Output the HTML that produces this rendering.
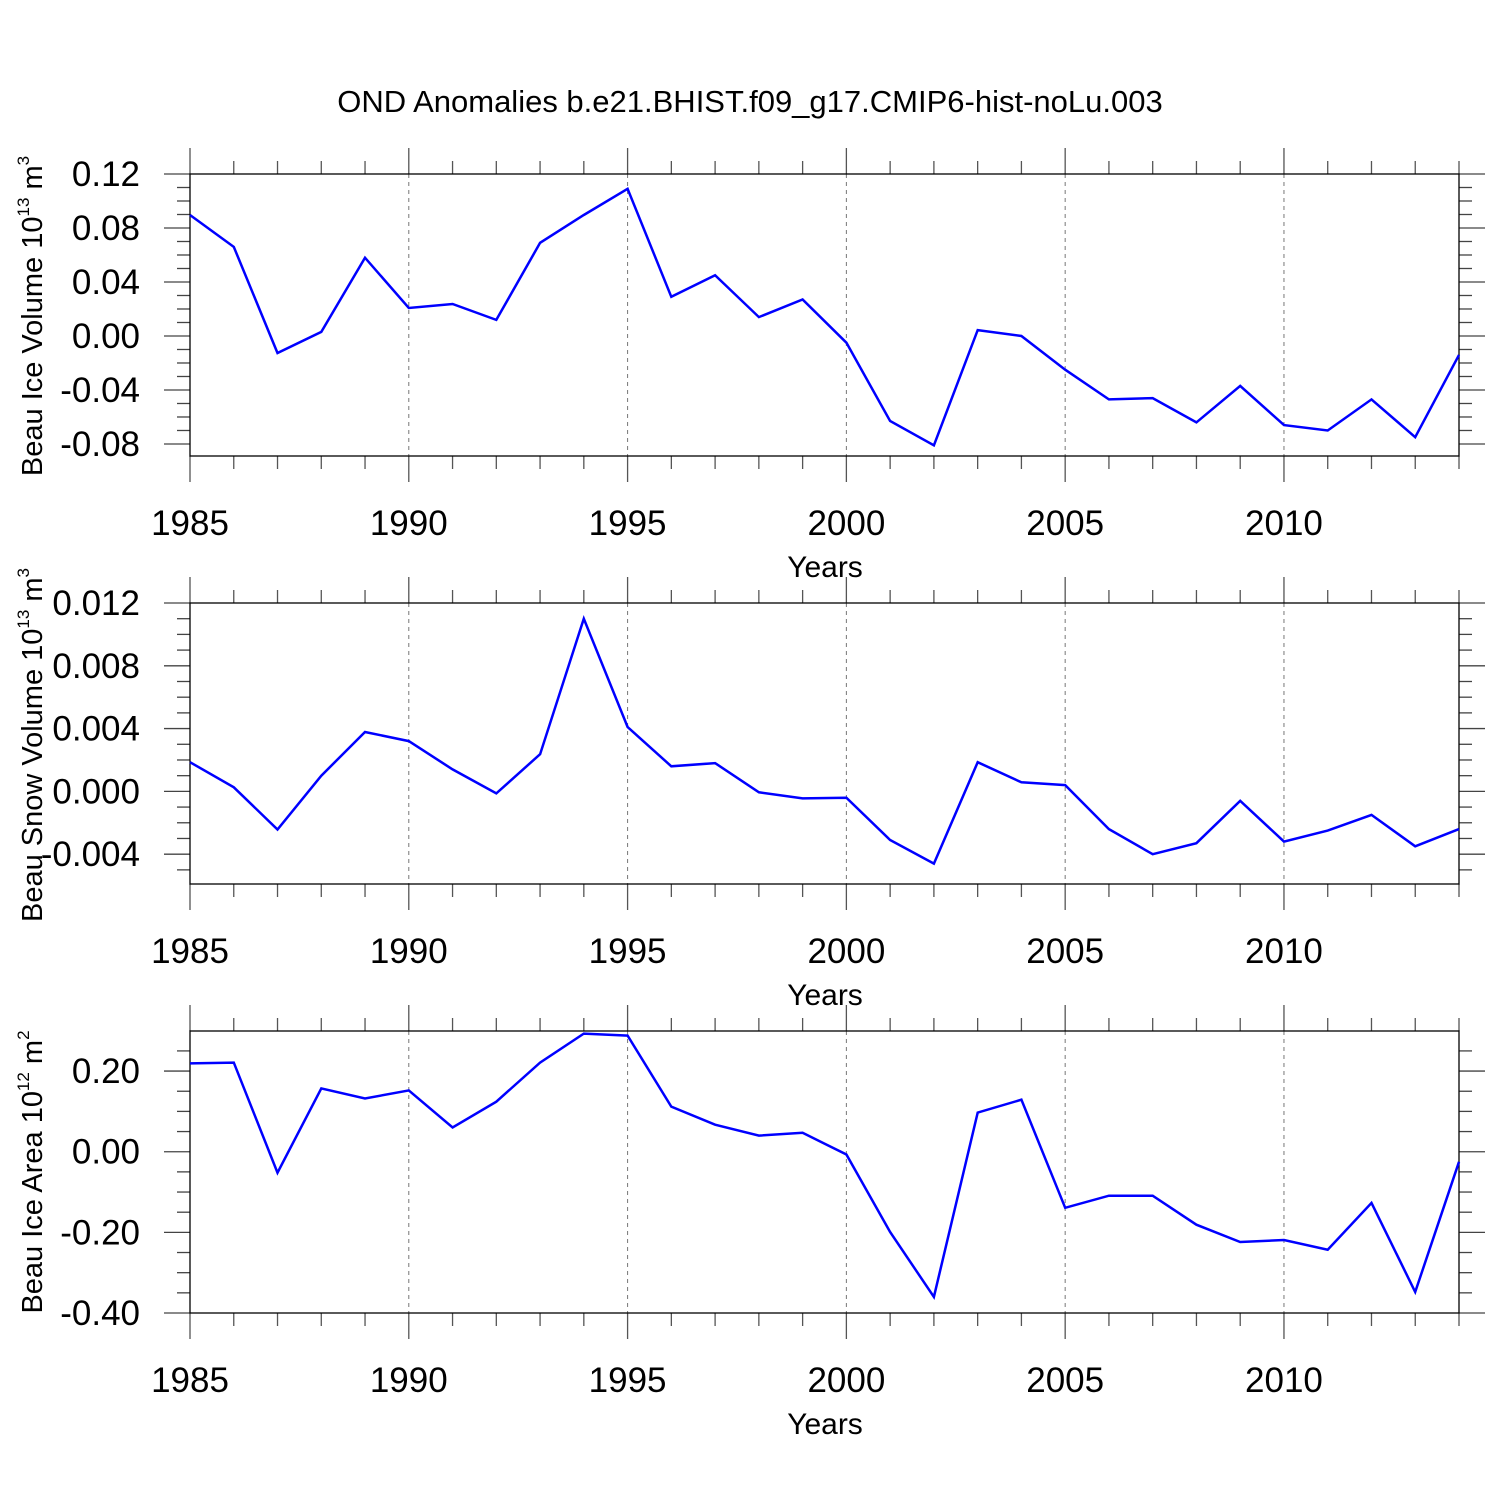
<!DOCTYPE html>
<html><head><meta charset="utf-8"><style>
html,body{margin:0;padding:0;background:#fff;}
svg{display:block;font-family:"Liberation Sans",sans-serif;}
</style></head><body>
<svg id="chart" width="1500" height="1500" xmlns="http://www.w3.org/2000/svg">
<rect width="1500" height="1500" fill="#fff"/>
<text x="750" y="112" font-size="31" text-anchor="middle">OND Anomalies b.e21.BHIST.f09_g17.CMIP6-hist-noLu.003</text>
</svg>
<script>
const years = [1985,1986,1987,1988,1989,1990,1991,1992,1993,1994,1995,1996,1997,1998,1999,2000,2001,2002,2003,2004,2005,2006,2007,2008,2009,2010,2011,2012,2013,2014];
const iceVolume = [0.0896,0.066,-0.0126,0.003,0.058,0.0207,0.0237,0.0119,0.069,0.0896,0.109,0.029,0.045,0.014,0.027,-0.005,-0.063,-0.081,0.0044,0.0,-0.025,-0.047,-0.046,-0.064,-0.037,-0.066,-0.070,-0.047,-0.075,-0.014];
const snowVolume = [0.00186,0.00026,-0.00243,0.001,0.00378,0.0032,0.0014,-0.00013,0.00237,0.011,0.0041,0.0016,0.0018,-0.00006,-0.00045,-0.0004,-0.0031,-0.0046,0.00186,0.00058,0.0004,-0.0024,-0.004,-0.0033,-0.0006,-0.0032,-0.0025,-0.0015,-0.0035,-0.0024];
const iceArea = [0.219,0.221,-0.052,0.157,0.132,0.152,0.06,0.124,0.221,0.293,0.288,0.112,0.067,0.04,0.047,-0.007,-0.199,-0.36,0.097,0.129,-0.139,-0.109,-0.109,-0.181,-0.224,-0.219,-0.243,-0.127,-0.348,-0.025];
const volTicks = [0.12,0.08,0.04,0.00,-0.04,-0.08];
const snowTicks = [0.012,0.008,0.004,0.000,-0.004];
const areaTicks = [0.20,0.00,-0.20,-0.40];
const xTickYears = [1985,1990,1995,2000,2005,2010];

const NS="http://www.w3.org/2000/svg";
const svg=document.getElementById('chart');
function mk(tag,attrs,parent){const e=document.createElementNS(NS,tag);for(const k in attrs)e.setAttribute(k,attrs[k]);(parent||svg).appendChild(e);return e;}
const X0=190,X1=1459;
function xs(yr){return X0+(yr-1985)/(2014-1985)*(X1-X0);}

const panels=[
 {name:'ice-volume',top:174,bottom:456,ymax:0.12,ymin:-0.0889,minor:0.01,dec:2,ticks:volTicks,data:iceVolume,
  title:['Beau Ice Volume 10','13',' m','3'],tcy:316},
 {name:'snow-volume',top:603,bottom:884,ymax:0.012,ymin:-0.0059,minor:0.001,dec:3,ticks:snowTicks,data:snowVolume,
  title:['Beau Snow Volume 10','13',' m','3'],tcy:745},
 {name:'ice-area',top:1031,bottom:1313,ymax:0.2994,ymin:-0.40,minor:0.05,dec:2,ticks:areaTicks,data:iceArea,
  title:['Beau Ice Area 10','12',' m','2'],tcy:1172}
];
panels.forEach(p=>{
  const g=mk('g',{});
  
  
  const ys=v=>p.top+(p.ymax-v)/(p.ymax-p.ymin)*(p.bottom-p.top);
  xTickYears.slice(1).forEach(yr=>{
    const l=mk('line',{x1:xs(yr),x2:xs(yr),y1:p.top,y2:p.bottom,stroke:'#777','stroke-width':1,'stroke-dasharray':'4,4'},g);
    
    
  });
  years.forEach(yr=>{
    const maj=xTickYears.includes(yr);const len=maj?26:13;const x=xs(yr);
    mk('line',{x1:x,x2:x,y1:p.top-len,y2:p.top,stroke:'#555','stroke-width':1.3},g);
    mk('line',{x1:x,x2:x,y1:p.bottom,y2:p.bottom+len,stroke:'#555','stroke-width':1.3},g);
  });
  const n0=Math.ceil(p.ymin/p.minor-1e-6),n1=Math.floor(p.ymax/p.minor+1e-6);
  for(let i=n0;i<=n1;i++){
    const v=i*p.minor;const y=ys(v);
    const maj=p.ticks.some(t=>Math.abs(t-v)<p.minor/10);const len=maj?26:13;
    mk('line',{x1:X0-len,x2:X0,y1:y,y2:y,stroke:'#444','stroke-width':1.3},g);
    mk('line',{x1:X1,x2:X1+len,y1:y,y2:y,stroke:'#444','stroke-width':1.3},g);
  }
  p.ticks.forEach(t=>{
    const tx=mk('text',{x:140,y:ys(t)+12,'font-size':35,'text-anchor':'end'},g);
    
    
    tx.textContent=(t<0?'-':'')+Math.abs(t).toFixed(p.dec);
  });
  xTickYears.forEach(yr=>{
    const tx=mk('text',{x:xs(yr),y:p.bottom+79,'font-size':35,'text-anchor':'middle'},g);
    
    
    tx.textContent=yr;
  });
  const xt=mk('text',{x:825,y:p.bottom+121,'font-size':30,'text-anchor':'middle'},g);
  
  
  xt.textContent='Years';
  const yt=mk('text',{x:0,y:0,'font-size':29,'text-anchor':'middle',transform:`translate(42,${p.tcy}) rotate(-90)`},g);
  
  
  const a=mk('tspan',{},yt);a.textContent=p.title[0];
  const b=mk('tspan',{'font-size':17,dy:-13},yt);b.textContent=p.title[1];
  const c=mk('tspan',{dy:13},yt);c.textContent=p.title[2];
  const d=mk('tspan',{'font-size':17,dy:-13},yt);d.textContent=p.title[3];
  const fr=mk('rect',{x:X0,y:p.top,width:X1-X0,height:p.bottom-p.top,fill:'none',stroke:'#000','stroke-width':1.3},g);
  
  
  const pts=p.data.map((v,i)=>xs(years[i]).toFixed(1)+','+ys(v).toFixed(1)).join(' ');
  const pl=mk('polyline',{points:pts,fill:'none',stroke:'#0000ff','stroke-width':2.5,'stroke-linejoin':'miter'},g);
  
  
});
</script>
</body></html>
